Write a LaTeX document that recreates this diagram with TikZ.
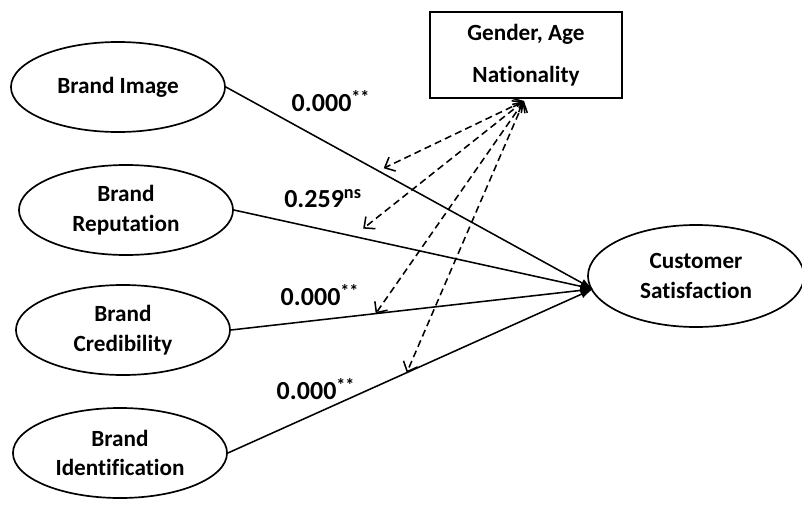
\documentclass[tikz,border=0pt]{standalone}
\usepackage{fontspec}
\setmainfont{Carlito}[Ligatures=NoCommon]
\usetikzlibrary{shapes.geometric,arrows.meta}

\begin{document}
\begin{tikzpicture}[x=0.025cm,y=-0.025cm,
    factor/.style={ellipse,draw,line width=1.2pt,minimum width=5.35cm,minimum height=2.25cm,
        align=center,font=\fontsize{16.5}{21}\selectfont\bfseries},
    effect/.style={line width=1.1pt,-{Latex[length=9pt,width=6pt]}},
    control/.style={line width=1.1pt,dash pattern=on 5pt off 3pt,
        {Straight Barb[length=6pt,width=11pt]}-{Straight Barb[length=6pt,width=11pt]}},
    coef/.style={font=\fontsize{18.5}{20}\selectfont\bfseries}]
        \useasboundingbox (0,0) rectangle (802,507);

        \node[factor] (bi) at (118,87) {Brand Image};
        \node[factor] (br) at (126,210) {Brand\\Reputation};
        \node[factor] (bc) at (123,330) {Brand\\Credibility};
        \node[factor] (bid) at (120,453) {Brand\\Identification};
        \node[factor,minimum width=5.4cm,minimum height=2.55cm] (cs) at (696,276) {Customer\\Satisfaction};
        \node[draw,line width=1.2pt,minimum width=4.8cm,minimum height=2.15cm,align=center,
            font=\fontsize{16.5}{30}\selectfont\bfseries] (dem) at (526,55) {Gender, Age\\Nationality};

        \coordinate (in) at (593,289);
        \coordinate (top) at (524,101);

        \draw[effect] (bi.east) -- coordinate[pos=0.43] (m1) (in);
        \draw[effect] (br.east) -- coordinate[pos=0.36] (m2) (in);
        \draw[effect] (bc.east) -- coordinate[pos=0.40] (m3) (in);
        \draw[effect] (bid.east) -- coordinate[pos=0.49] (m4) (in);

        \draw[control] (top) -- ([yshift=4]m1);
        \draw[control] (top) -- ([yshift=7]m2);
        \draw[control] (top) -- (m3);
        \draw[control] (top) -- (m4);

        \node[coef] (c1) at (331,101) {0.000\textsuperscript{**}};
        \node[coef] (c2) at (323,199) {0.259\textsuperscript{ns}};
        \node[coef] (c3) at (320,295) {0.000\textsuperscript{**}};
        \node[coef] (c4) at (316,389) {0.000\textsuperscript{**}};
\end{tikzpicture}
\end{document}
